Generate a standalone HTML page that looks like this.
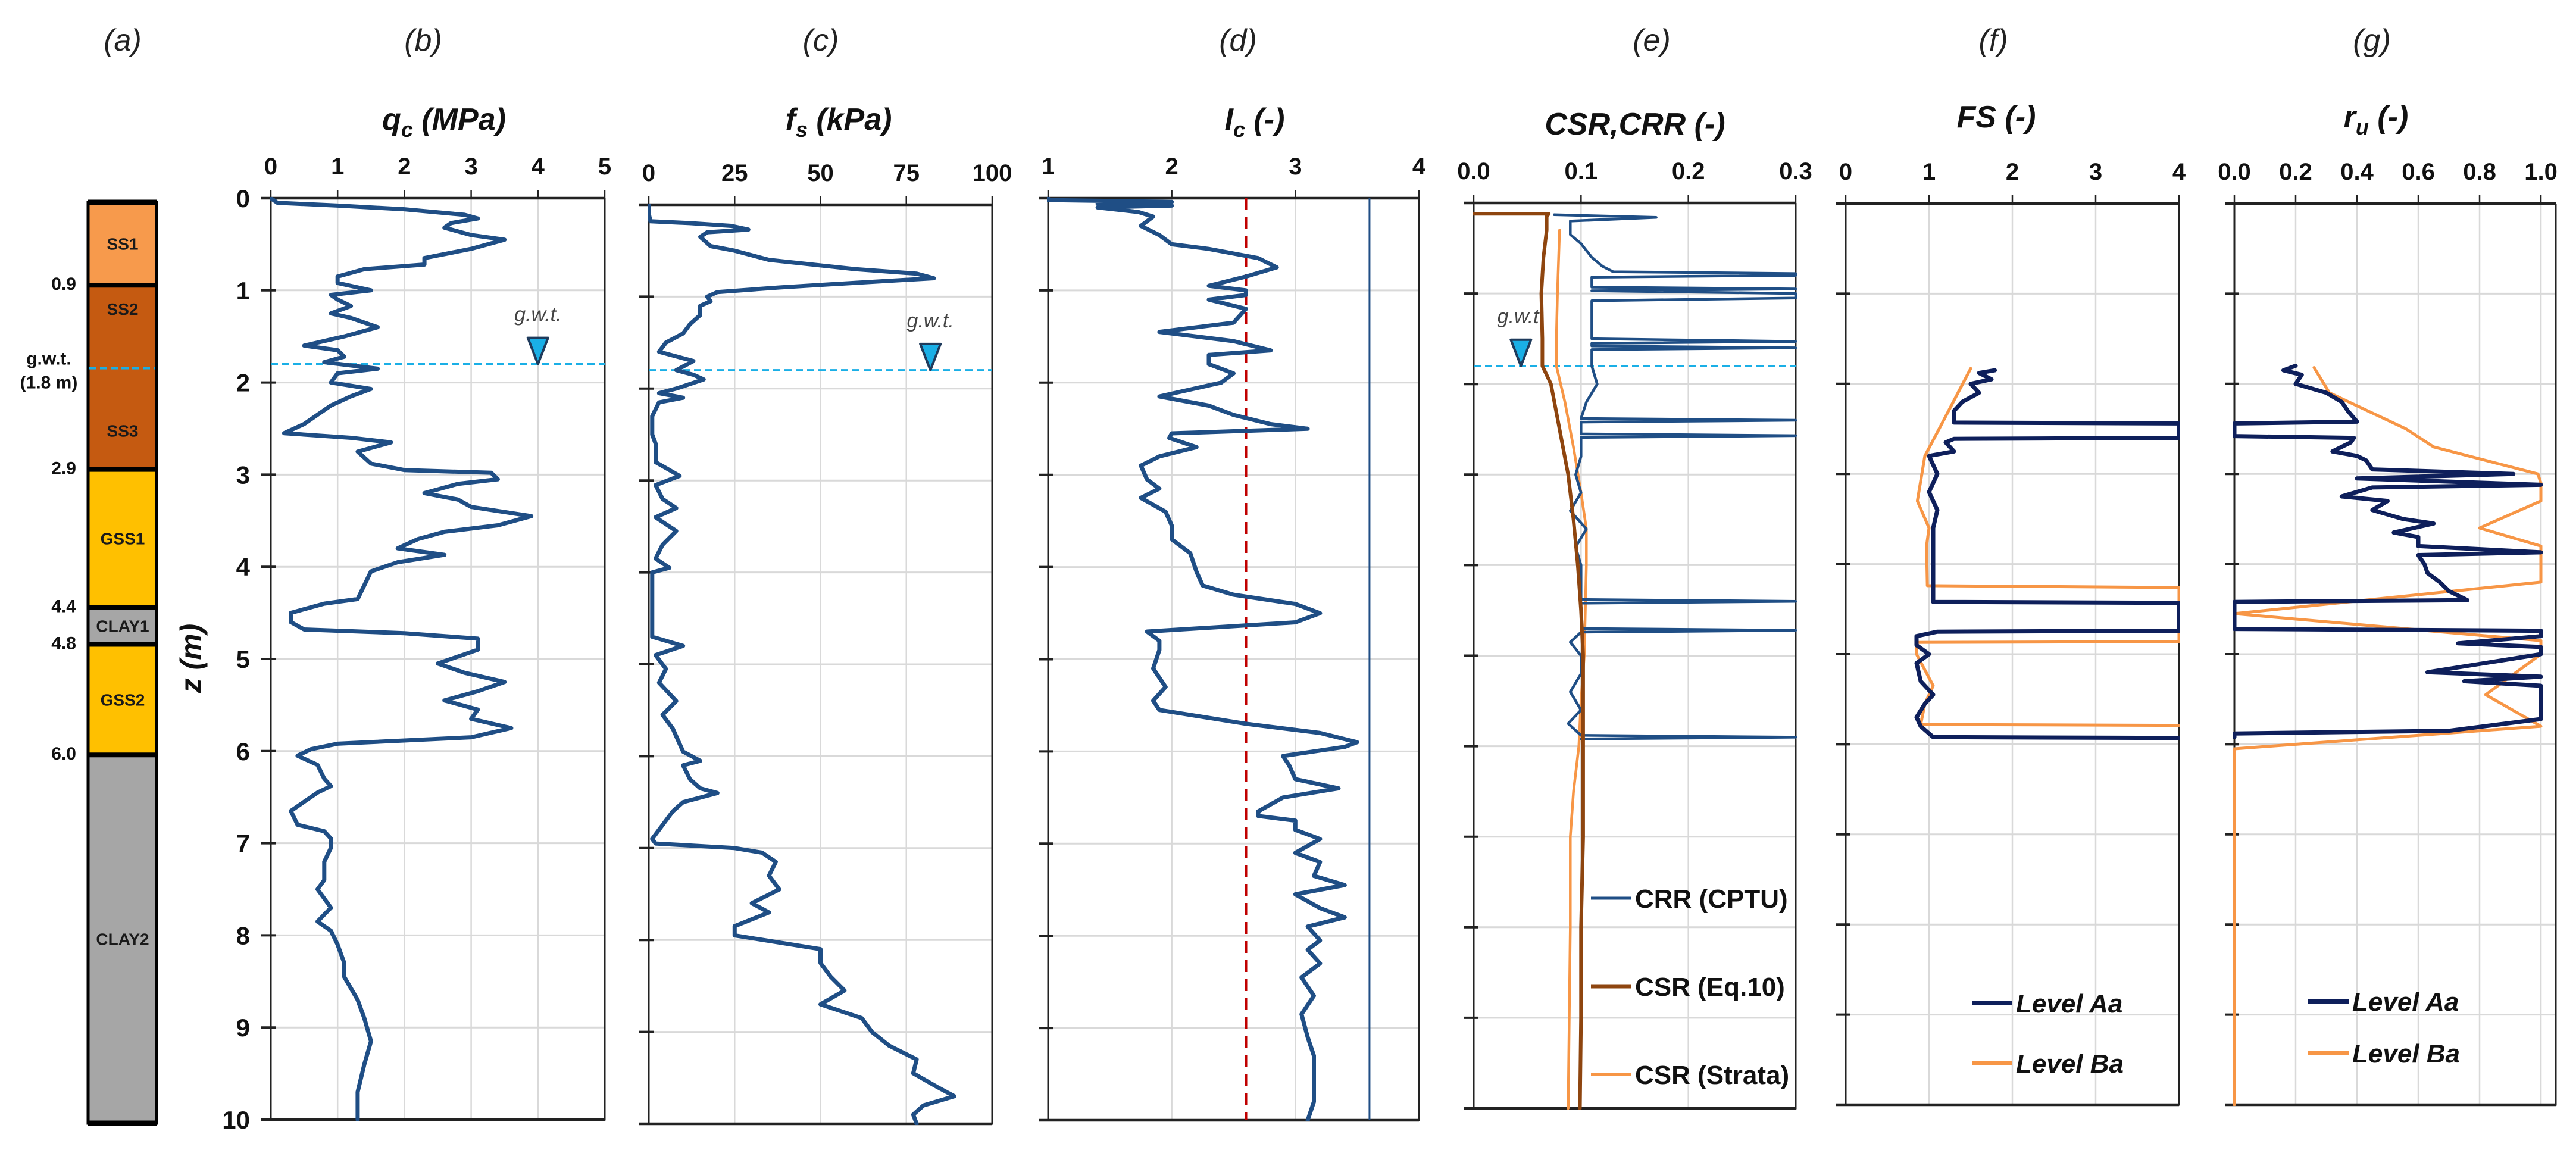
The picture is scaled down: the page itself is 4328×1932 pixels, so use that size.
<!DOCTYPE html>
<html><head><meta charset="utf-8"><style>
html,body{margin:0;padding:0;background:#fff;}
svg{display:block;font-family:"Liberation Sans",Arial,sans-serif;}
</style></head><body>
<svg id="fig" width="4328" height="1932" viewBox="0 0 4328 1932" xmlns="http://www.w3.org/2000/svg">
<rect width="4328" height="1932" fill="#fff"/>
<g id="soil"></g>
</svg>
<script>
// ---- data ----
const qcDepth=[0,0.05,0.08,0.12,0.18,0.22,0.27,0.32,0.4,0.45,0.55,0.65,0.72,0.77,0.85,0.92,1.0,1.05,1.1,1.17,1.25,1.3,1.4,1.5,1.6,1.65,1.72,1.78,1.85,1.9,2.0,2.07,2.15,2.25,2.35,2.45,2.55,2.6,2.65,2.75,2.88,2.95,2.98,3.05,3.1,3.2,3.27,3.35,3.45,3.55,3.62,3.7,3.8,3.87,3.95,4.05,4.2,4.35,4.4,4.5,4.6,4.68,4.72,4.78,4.9,5.05,5.15,5.25,5.35,5.45,5.55,5.65,5.75,5.85,5.92,5.98,6.05,6.15,6.3,6.38,6.45,6.55,6.65,6.8,6.87,6.95,7.05,7.2,7.4,7.5,7.6,7.7,7.85,7.95,8.1,8.3,8.45,8.7,8.9,9.15,9.4,9.7,10];
const qcValues=[0,0.1,1.0,2.0,2.9,3.1,2.7,2.6,3.0,3.5,3.0,2.3,2.3,1.4,1.0,1.0,1.5,0.9,1.0,1.2,0.9,1.2,1.6,1.1,0.5,1.0,1.1,0.8,1.6,1.0,0.9,1.5,1.2,0.9,0.7,0.5,0.2,1.2,1.8,1.3,1.5,2.0,3.3,3.4,2.8,2.3,2.8,3.0,3.9,3.4,2.6,2.2,1.9,2.6,1.9,1.5,1.4,1.3,0.8,0.3,0.3,0.5,2.0,3.1,3.1,2.5,2.9,3.5,3.1,2.6,3.1,3.0,3.6,3.0,1.0,0.6,0.4,0.7,0.8,0.9,0.7,0.5,0.3,0.4,0.8,0.9,0.9,0.8,0.8,0.7,0.8,0.9,0.7,0.9,1.0,1.1,1.1,1.3,1.4,1.5,1.4,1.3,1.3];
const fsDepth=[0,0.1,0.18,0.2,0.23,0.27,0.3,0.35,0.45,0.5,0.6,0.7,0.75,0.8,0.85,0.9,0.95,1.0,1.05,1.1,1.2,1.3,1.4,1.5,1.6,1.7,1.8,1.85,1.9,2.0,2.05,2.1,2.15,2.3,2.5,2.6,2.8,2.95,3.05,3.2,3.3,3.4,3.55,3.7,3.85,3.95,4.0,4.3,4.5,4.7,4.8,4.9,5.05,5.2,5.4,5.55,5.7,5.95,6.05,6.1,6.25,6.35,6.4,6.5,6.6,6.75,6.9,6.95,7.0,7.05,7.15,7.3,7.45,7.6,7.7,7.85,7.95,8.1,8.25,8.4,8.55,8.7,8.85,9.0,9.15,9.3,9.45,9.6,9.7,9.8,9.9,10];
const fsValues=[0,0,0.5,12,24,29,17,15,18,25,35,60,78,83,60,38,20,17,18,15,15,12,10,5,3,13,8,13,16,8,3,10,3,1,1,2,2,9,2,4,8,2,8,4,2,6,1,1,1,1,10,2,5,3,8,4,7,10,15,10,12,15,20,10,7,4,1,2,25,33,37,35,38,30,35,25,25,50,50,53,57,50,62,65,70,78,77,84,89,80,77,78];
const icDepth=[0,0.02,0.04,0.06,0.08,0.1,0.15,0.2,0.3,0.4,0.5,0.55,0.65,0.75,0.85,0.95,1.0,1.05,1.1,1.2,1.35,1.45,1.55,1.65,1.7,1.8,1.9,2.0,2.15,2.25,2.35,2.45,2.5,2.55,2.6,2.7,2.8,2.9,3.05,3.15,3.25,3.4,3.55,3.7,3.85,4.05,4.2,4.3,4.4,4.5,4.6,4.7,4.8,4.9,5.1,5.3,5.45,5.55,5.7,5.8,5.9,5.95,6.05,6.15,6.3,6.4,6.5,6.65,6.7,6.75,6.85,6.95,7.1,7.2,7.35,7.45,7.55,7.7,7.8,7.9,8.05,8.15,8.3,8.45,8.65,8.85,9.1,9.3,9.6,9.8,10];
const icValues=[1.0,1.0,2.0,1.4,2.0,1.4,1.73,1.85,1.75,1.9,2.0,2.3,2.7,2.85,2.6,2.3,2.6,2.6,2.3,2.6,2.5,1.9,2.5,2.8,2.3,2.3,2.5,2.4,1.9,2.3,2.5,2.8,3.1,2.0,1.98,2.2,1.9,1.75,1.8,1.9,1.75,1.95,2.0,2.0,2.15,2.2,2.25,2.5,3.0,3.2,3.0,1.8,1.9,1.9,1.85,1.95,1.85,1.9,2.6,3.2,3.5,3.4,2.9,2.95,3.0,3.35,2.9,2.7,2.7,3.0,3.0,3.2,3.0,3.2,3.15,3.4,3.0,3.2,3.4,3.1,3.2,3.1,3.2,3.05,3.15,3.05,3.1,3.15,3.15,3.15,3.1];
const icThreshold=[2.6];
const icLimit=[3.6];
const crrDepth=[0.13,0.16,0.2,0.24,0.35,0.45,0.6,0.7,0.76,0.78,0.8,0.82,0.93,0.95,0.97,1.0,1.02,1.05,1.08,1.12,1.3,1.5,1.53,1.55,1.58,1.6,1.62,1.64,1.8,2.0,2.2,2.38,2.4,2.42,2.55,2.57,2.59,2.8,3.0,3.2,3.4,3.6,3.8,4.0,4.2,4.38,4.4,4.42,4.7,4.72,4.74,4.85,5.0,5.2,5.4,5.6,5.75,5.88,5.9,5.92];
const crrValues=[0.075,0.17,0.09,0.09,0.09,0.1,0.11,0.12,0.13,0.3,0.3,0.11,0.11,0.3,0.11,0.3,0.3,0.3,0.11,0.11,0.11,0.11,0.3,0.11,0.11,0.3,0.11,0.11,0.11,0.115,0.105,0.1,0.3,0.1,0.1,0.3,0.1,0.1,0.095,0.1,0.09,0.105,0.095,0.1,0.1,0.1,0.3,0.1,0.1,0.3,0.1,0.09,0.1,0.1,0.09,0.1,0.088,0.1,0.3,0.1];
const csrEqDepth=[0.12,0.12,0.15,0.3,0.6,1.0,1.5,1.8,2.0,2.5,3.0,3.5,4.0,4.5,5.0,6.0,7.0,8.0,9.0,10];
const csrEqValues=[0,0.07,0.068,0.068,0.065,0.063,0.064,0.064,0.072,0.08,0.088,0.093,0.097,0.1,0.102,0.102,0.102,0.1,0.1,0.099];
const csrStDepth=[0.3,1.0,1.5,1.8,2.2,2.7,3.2,3.6,4.0,4.5,5.0,5.5,6.0,6.5,7.0,8.0,9.0,10];
const csrStValues=[0.08,0.078,0.077,0.077,0.085,0.093,0.1,0.105,0.105,0.104,0.103,0.1,0.098,0.093,0.09,0.09,0.089,0.088];
const fsAaDepth=[1.85,1.88,1.95,2.0,2.1,2.2,2.3,2.43,2.44,2.6,2.61,2.65,2.75,2.8,3.0,3.2,3.4,3.6,3.8,4.0,4.2,4.42,4.43,4.74,4.75,4.8,4.9,5.0,5.1,5.3,5.45,5.55,5.7,5.8,5.92,5.93];
const fsAaValues=[1.79,1.6,1.75,1.5,1.6,1.4,1.3,1.3,4,4,1.3,1.2,1.3,1.0,1.1,1.0,1.1,1.05,1.05,1.05,1.05,1.05,4,4,1.1,0.85,0.85,1.0,0.85,0.9,1.05,0.95,0.85,0.9,1.05,4];
const fsBaDepth=[1.83,2.45,2.8,3.3,3.6,3.8,4.24,4.26,4.86,4.87,5.0,5.35,5.55,5.78,5.79];
const fsBaValues=[1.5,1.15,0.95,0.86,1.0,0.97,0.98,4,4,0.85,0.85,1.05,0.95,0.9,4];
const ruAaDepth=[1.8,1.85,1.9,2.0,2.05,2.1,2.2,2.3,2.42,2.44,2.58,2.6,2.65,2.75,2.8,2.85,2.95,3.0,3.05,3.12,3.15,3.25,3.3,3.4,3.5,3.55,3.65,3.7,3.8,3.87,3.9,4.0,4.1,4.2,4.3,4.4,4.42,4.72,4.74,4.8,4.88,4.92,5.0,5.2,5.25,5.3,5.35,5.5,5.72,5.85,5.88,5.92];
const ruAaValues=[0.2,0.16,0.22,0.2,0.25,0.3,0.35,0.37,0.4,0,0,0.39,0.38,0.32,0.4,0.43,0.45,0.91,0.4,1.0,0.45,0.35,0.5,0.45,0.55,0.65,0.52,0.6,0.6,1.0,0.6,0.62,0.63,0.67,0.7,0.76,0,0,1.0,1.0,0.73,1.0,1.0,0.63,1.0,0.75,1.0,1.0,1.0,0.7,0,0];
const ruBaDepth=[1.82,2.1,2.5,2.7,3.0,3.1,3.3,3.6,3.8,4.2,4.55,4.85,5.0,5.45,5.8,6.05,10];
const ruBaValues=[0.26,0.31,0.56,0.65,0.99,1.0,1.0,0.8,1.0,1.0,0.0,1.0,1.0,0.82,1.0,0.0,0.0];
const soilNames=["SS1","SS2","SS3","GSS1","CLAY1","GSS2","CLAY2"];
const soilTop=[0,0.9,1.8,2.9,4.4,4.8,6.0];
const soilBottom=[0.9,1.8,2.9,4.4,4.8,6.0,10];
const soilColors=["#F79A4C","#C55A11","#C55A11","#FFC000","#A6A6A6","#FFC000","#A6A6A6"];
const soilBoundaryLabels=["0.9","2.9","4.4","4.8","6.0"];
const soilBoundaryDepth=[0.9,2.9,4.4,4.8,6.0];

const NS="http://www.w3.org/2000/svg";
const svg=document.getElementById('fig');
function mk(tag,attrs,parent){const e=document.createElementNS(NS,tag);for(const k in attrs)e.setAttribute(k,attrs[k]);(parent||svg).appendChild(e);return e;}

const panels=[
 {id:'b',letter:'(b)',lx:711,x0:455,x1:1016,v0:0,v1:5,y0:333,y1:1881,ticks:[0,1,2,3,4,5],fmt:v=>String(v),title:['q','c',' (MPa)'],tx:746,ty:218},
 {id:'c',letter:'(c)',lx:1379,x0:1090,x1:1667,v0:0,v1:100,y0:344,y1:1888,ticks:[0,25,50,75,100],fmt:v=>String(v),title:['f','s',' (kPa)'],tx:1409,ty:218},
 {id:'d',letter:'(d)',lx:2080,x0:1761,x1:2384,v0:1,v1:4,y0:333,y1:1882,ticks:[1,2,3,4],fmt:v=>String(v),title:['I','c',' (-)'],tx:2108,ty:218},
 {id:'e',letter:'(e)',lx:2775,x0:2476,x1:3017,v0:0,v1:0.3,y0:341,y1:1862,ticks:[0,0.1,0.2,0.3],fmt:v=>v.toFixed(1),title:['CSR,CRR (-)','',''],tx:2747,ty:226},
 {id:'f',letter:'(f)',lx:3349,x0:3101,x1:3661,v0:0,v1:4,y0:342,y1:1856,ticks:[0,1,2,3,4],fmt:v=>String(v),title:['FS (-)','',''],tx:3354,ty:214},
 {id:'g',letter:'(g)',lx:3985,x0:3754,x1:4294,v0:0,v1:1.0485,y0:342,y1:1856,ticks:[0,0.2,0.4,0.6,0.8,1.0],fmt:v=>v.toFixed(1),title:['r','u',' (-)'],tx:3992,ty:214}
];
const P={};panels.forEach(p=>{P[p.id]=p;p.sx=v=>p.x0+(v-p.v0)/(p.v1-p.v0)*(p.x1-p.x0);p.sy=z=>p.y0+z/10*(p.y1-p.y0);});

// panel (a) letter
const la=mk('text',{x:206,y:85,'text-anchor':'middle','font-size':52,'font-style':'italic',fill:'#222'});


la.textContent='(a)';

panels.forEach(p=>{
 const g=mk('g',{});
 
 
 const lab=mk('text',{x:p.lx,y:85,'text-anchor':'middle','font-size':52,'font-style':'italic',fill:'#222'},g);
 
 
 lab.textContent=p.letter;
 const t=mk('text',{x:p.tx,y:p.ty,'text-anchor':'middle','font-size':52,'font-weight':'bold','font-style':'italic',fill:'#111'},g);
 
 
 const t1=mk('tspan',{},t);t1.textContent=p.title[0];
 if(p.title[1]){const t2=mk('tspan',{'font-size':36,dy:12},t);t2.textContent=p.title[1];const t3=mk('tspan',{dy:-12},t);t3.textContent=p.title[2];}
 // grid
 p.ticks.forEach(v=>{const x=p.sx(v);if(Math.abs(x-p.x0)>3&&Math.abs(x-p.x1)>3){const l=mk('line',{x1:x,x2:x,y1:p.y0,y2:p.y1,stroke:'#d9d9d9','stroke-width':2.5},g);}});
 for(let z=1;z<10;z++){const y=p.sy(z);const l=mk('line',{x1:p.x0,x2:p.x1,y1:y,y2:y,stroke:'#d9d9d9','stroke-width':3},g);}
 // frame
 const fr=mk('path',{d:`M${p.x0} ${p.y0}V${p.y1}H${p.x1}V${p.y0}`,fill:'none',stroke:'#222','stroke-width':3},g);
 
 
 const top=mk('line',{x1:p.x0-16,x2:p.x1,y1:p.y0,y2:p.y0,stroke:'#222','stroke-width':4.5},g);
 
 
 const bot=mk('line',{x1:p.x0-16,x2:p.x1,y1:p.y1,y2:p.y1,stroke:'#222','stroke-width':4.5},g);
 
 
 p.ticks.forEach(v=>{const x=p.sx(v);
  mk('line',{x1:x,x2:x,y1:p.y0-14,y2:p.y0,stroke:'#222','stroke-width':2.5},g);
  const tl=mk('text',{x:x,y:p.y0-40,'text-anchor':'middle','font-size':40,'font-weight':'bold',fill:'#111'},g);
  
  
  tl.textContent=p.fmt(v);});
 for(let z=0;z<=10;z++){const y=p.sy(z);mk('line',{x1:p.x0-16,x2:p.x0+8,y1:y,y2:y,stroke:'#222','stroke-width':4},g);
  if(p.id==='b'){const yl=mk('text',{x:420,y:y+15,'text-anchor':'end','font-size':42,'font-weight':'bold',fill:'#111'},g);
   
   
   yl.textContent=String(z);}}
 const cp=mk('clipPath',{id:'clip-'+p.id},g);mk('rect',{x:p.x0-2,y:p.y0-2,width:p.x1-p.x0+4,height:p.y1-p.y0+4},cp);
 p.g=g;
});

const zl=mk('text',{x:0,y:0,transform:'translate(338,1106) rotate(-90)','text-anchor':'middle','font-size':50,'font-weight':'bold','font-style':'italic',fill:'#111'});


zl.textContent='z (m)';

function series(p,depth,vals,color,w,name){
 let d='';depth.forEach((z,i)=>{d+=(i?'L':'M')+p.sx(vals[i]).toFixed(1)+' '+p.sy(z).toFixed(1);});
 const e=mk('path',{d:d,fill:'none',stroke:color,'stroke-width':w,'stroke-linejoin':'round','stroke-linecap':'round','clip-path':'url(#clip-'+p.id+')'},p.g);
 
 
 return e;
}
function vline(p,v,color,w,dash,name){
 const e=mk('line',{x1:p.sx(v),x2:p.sx(v),y1:p.y0,y2:p.y1,stroke:color,'stroke-width':w,'stroke-dasharray':dash||'none'},p.g);
 
 
}
function gwt(p,z,v){
 const y=p.sy(z);
 const l=mk('line',{x1:p.x0,x2:p.x1,y1:y,y2:y,stroke:'#1AAFE6','stroke-width':3.5,'stroke-dasharray':'12 7'},p.g);
 
 
 const x=p.sx(v);
 const tr=mk('path',{d:`M${x-17} ${y-44}H${x+17}L${x} ${y}Z`,fill:'#1AAFE6',stroke:'#1f3b5c','stroke-width':4,'stroke-linejoin':'round'},p.g);
 
 
 const tx=mk('text',{x:x,y:y-72,'text-anchor':'middle','font-size':34,'font-style':'italic',fill:'#444'},p.g);
 
 
 tx.textContent='g.w.t.';
}
const BLUE='#1F4E85',NAVY='#0E1F5B',ORANGE='#F79646',BROWN='#8E450F';
gwt(P.b,1.8,4);gwt(P.c,1.8,82);gwt(P.e,1.8,0.044);
series(P.b,qcDepth,qcValues,BLUE,7,'qc-curve');
series(P.c,fsDepth,fsValues,BLUE,7,'fs-curve');
vline(P.d,icThreshold[0],'#C00000',4.5,'20 12','ic-threshold-line');
vline(P.d,icLimit[0],BLUE,3,null,'ic-limit-line');
series(P.d,icDepth,icValues,BLUE,7,'ic-curve');
series(P.e,csrStDepth,csrStValues,ORANGE,4.5,'csr-strata-curve');
series(P.e,crrDepth,crrValues,BLUE,4.5,'crr-cptu-curve');
series(P.e,csrEqDepth,csrEqValues,BROWN,6,'csr-eq10-curve');
series(P.f,fsBaDepth,fsBaValues,ORANGE,5,'fs-level-ba-curve');
series(P.f,fsAaDepth,fsAaValues,NAVY,7,'fs-level-aa-curve');
series(P.g,ruBaDepth,ruBaValues,ORANGE,5,'ru-level-ba-curve');
series(P.g,ruAaDepth,ruAaValues,NAVY,7,'ru-level-aa-curve');

function legend(x,y,color,w,text,italic,name){
 const g=mk('g',{});
 
 
 mk('line',{x1:x,x2:x+68,y1:y,y2:y,stroke:color,'stroke-width':w},g);
 const t=mk('text',{x:x+74,y:y+16,'font-size':44,'font-weight':'bold','font-style':italic?'italic':'normal',fill:'#111'},g);
 t.textContent=text;
}
legend(2673,1509,BLUE,5,'CRR (CPTU)',false,'legend-crr-cptu');
legend(2673,1657,BROWN,7,'CSR (Eq.10)',false,'legend-csr-eq10');
legend(2673,1805,ORANGE,6,'CSR (Strata)',false,'legend-csr-strata');
legend(3313,1685,NAVY,8,'Level Aa',true,'legend-fs-level-aa');
legend(3313,1786,ORANGE,6,'Level Ba',true,'legend-fs-level-ba');
legend(3878,1682,NAVY,8,'Level Aa',true,'legend-ru-level-aa');
legend(3878,1769,ORANGE,6,'Level Ba',true,'legend-ru-level-ba');

// soil column
const soil=document.getElementById('soil');
const sy=z=>340+z/10*(1887-340);
soilNames.forEach((n,i)=>{
 const r=mk('rect',{x:148,y:sy(soilTop[i]),width:115,height:sy(soilBottom[i])-sy(soilTop[i]),fill:soilColors[i]},soil);
 
 
 const t=mk('text',{x:206,y:(sy(soilTop[i])+sy(soilBottom[i]))/2+10+(n==='SS2'?-30:0)+(n==='SS3'?20:0),'text-anchor':'middle','font-size':28,'font-weight':'bold',fill:'#1a1a1a'},soil);
 
 
 t.textContent=n;
});
soilBoundaryDepth.forEach((z,i)=>{
 mk('line',{x1:148,x2:263,y1:sy(z),y2:sy(z),stroke:'#000','stroke-width':8},soil);
 const t=mk('text',{x:128,y:sy(z)+8,'text-anchor':'end','font-size':30,'font-weight':'bold',fill:'#111'},soil);
 
 
 t.textContent=soilBoundaryLabels[i];
});
mk('rect',{x:148,y:340,width:115,height:1547,fill:'none',stroke:'#000','stroke-width':5},soil);
mk('line',{x1:148,x2:263,y1:340,y2:340,stroke:'#000','stroke-width':9},soil);
mk('line',{x1:148,x2:263,y1:1887,y2:1887,stroke:'#000','stroke-width':9},soil);
mk('line',{x1:150,x2:261,y1:sy(1.8),y2:sy(1.8),stroke:'#1AAFE6','stroke-width':4,'stroke-dasharray':'12 6'},soil);
const g1=mk('text',{x:82,y:sy(1.8)-6,'text-anchor':'middle','font-size':30,'font-weight':'bold',fill:'#111'},soil);


g1.textContent='g.w.t.';
const g2=mk('text',{x:82,y:sy(1.8)+34,'text-anchor':'middle','font-size':30,'font-weight':'bold',fill:'#111'},soil);


g2.textContent='(1.8 m)';
</script>
</body></html>
